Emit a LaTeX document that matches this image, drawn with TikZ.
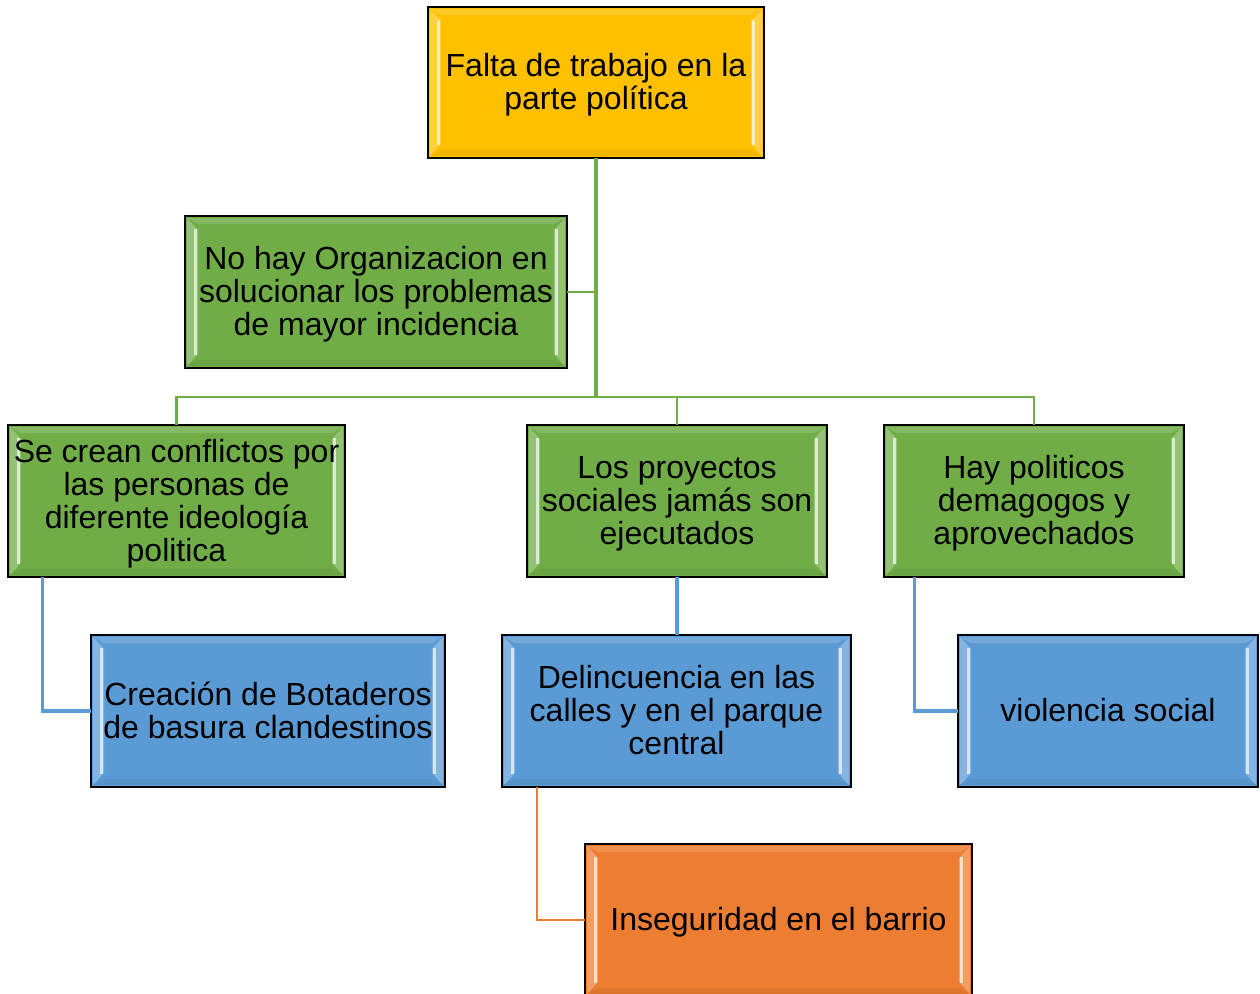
\documentclass[tikz,border=0pt]{standalone}
\usepackage{fontspec}
\setmainfont{Liberation Sans}
\usetikzlibrary{calc}
\definecolor{cgold}{HTML}{FFC000}
\definecolor{cgreen}{HTML}{70AD47}
\definecolor{cblue}{HTML}{5B9BD5}
\definecolor{corange}{HTML}{ED7D31}
\tikzset{
  box/.style={draw=black, line width=1.3pt, align=center, inner sep=0pt,
    font=\fontsize{24pt}{24.75pt}\selectfont, text=black},
  wbox/.style={box, minimum width=#1*0.75pt},
  hbox/.style={minimum height=#1*0.75pt},
  txt/.style={yshift=-2pt, draw=none},
  txtb/.style={yshift=0.6pt, draw=none},
  gline/.style={draw=cgreen, line width=1.6pt},
  gthick/.style={draw=cgreen, line width=3pt},
  bline/.style={draw=cblue, line width=2.3pt},
  oline/.style={draw=corange, line width=1.8pt},
}
\newcommand{\bevelbox}[2]{%
  \fill[white!25!#2] ($(#1.north west)+(2,2)$) -- ($(#1.north west)+(13,14)$) -- ($(#1.south west)+(13,-14)$) -- ($(#1.south west)+(2,-2)$) -- cycle;
  \fill[white!75!#2] ($(#1.north west)+(9,13)$) rectangle ($(#1.south west)+(12,-13)$);
  \fill[white!25!#2] ($(#1.north east)+(-2,2)$) -- ($(#1.north east)+(-13,14)$) -- ($(#1.south east)+(-13,-14)$) -- ($(#1.south east)+(-2,-2)$) -- cycle;
  \fill[white!75!#2] ($(#1.north east)+(-9,13)$) rectangle ($(#1.south east)+(-12,-13)$);
  \fill[white!15!#2] ($(#1.north west)+(2,2)$) -- ($(#1.north east)+(-2,2)$) -- ($(#1.north east)+(-13,8)$) -- ($(#1.north west)+(13,8)$) -- cycle;
  \fill[black!6!#2] ($(#1.south west)+(2,-2)$) -- ($(#1.south east)+(-2,-2)$) -- ($(#1.south east)+(-13,-8)$) -- ($(#1.south west)+(13,-8)$) -- cycle;
}
\begin{document}
\begin{tikzpicture}[x=0.75pt, y=-0.75pt]
\useasboundingbox (0,0) rectangle (1260,994);
\node[wbox=334, hbox=149, fill=cgold, draw=none] (top) at (596,82.5) {};
\node[wbox=380, hbox=150, fill=cgreen, draw=none] (org) at (376,292) {};
\node[wbox=335, hbox=150, fill=cgreen, draw=none] (conf) at (176.5,501) {};
\node[wbox=298, hbox=150, fill=cgreen, draw=none] (proy) at (677,501) {};
\node[wbox=298, hbox=150, fill=cgreen, draw=none] (dema) at (1034,501) {};
\node[wbox=352, hbox=150, fill=cblue, draw=none] (bota) at (268,711) {};
\node[wbox=347, hbox=150, fill=cblue, draw=none] (deli) at (676.5,711) {};
\node[wbox=298, hbox=150, fill=cblue, draw=none] (viol) at (1108,711) {};
\node[wbox=385, hbox=150, fill=corange, draw=none] (inse) at (778.5,920) {};
\bevelbox{top}{cgold}
\bevelbox{org}{cgreen}
\bevelbox{conf}{cgreen}
\bevelbox{proy}{cgreen}
\bevelbox{dema}{cgreen}
\bevelbox{bota}{cblue}
\bevelbox{deli}{cblue}
\bevelbox{viol}{cblue}
\bevelbox{inse}{corange}
% borders on top of the bevel
\foreach \n in {top,org,conf,proy,dema,bota,deli,viol,inse}
  \draw[line width=1.3pt] (\n.north west) rectangle (\n.south east);
% texts
\node[box, txt] (ttop) at (top) {Falta de trabajo en la\\parte política};
\node[box, txt] (torg) at (org) {No hay Organizacion en\\solucionar los problemas\\de mayor incidencia};
\node[box, txt] (tconf) at (conf) {Se crean conflictos por\\las personas de\\diferente ideología\\politica};
\node[box, txt] (tproy) at (proy) {Los proyectos\\sociales jamás son\\ejecutados};
\node[box, txt] (tdema) at (dema) {Hay politicos\\demagogos y\\aprovechados};
\node[box, txtb] (tbota) at (bota) {Creación de Botaderos\\de basura clandestinos};
\node[box, txtb] (tdeli) at (deli) {Delincuencia en las\\calles y en el parque\\central};
\node[box, txtb] (tviol) at (viol) {violencia social};
\node[box, txt] (tinse) at (inse) {Inseguridad en el barrio};
% connectors
\coordinate (hub) at (top.south |- 0,397);
\draw[gthick] (top.south) -- (hub);
\draw[gline] (org.east) -- (org.east -| top.south);
\draw[gline] (conf.north) -- (conf.north |- hub) -- (dema.north |- hub) -- (dema.north);
\draw[gline] (proy.north |- hub) -- (proy.north);
\draw[bline] ($(conf.south west)+(34,0)$) |- (bota.west);
\draw[bline] (proy.south) -- (proy.south |- deli.north);
\draw[bline] ($(dema.south west)+(30,0)$) |- (viol.west);
\draw[oline] ($(deli.south west)+(35,0)$) |- (inse.west);
\end{tikzpicture}
\end{document}
